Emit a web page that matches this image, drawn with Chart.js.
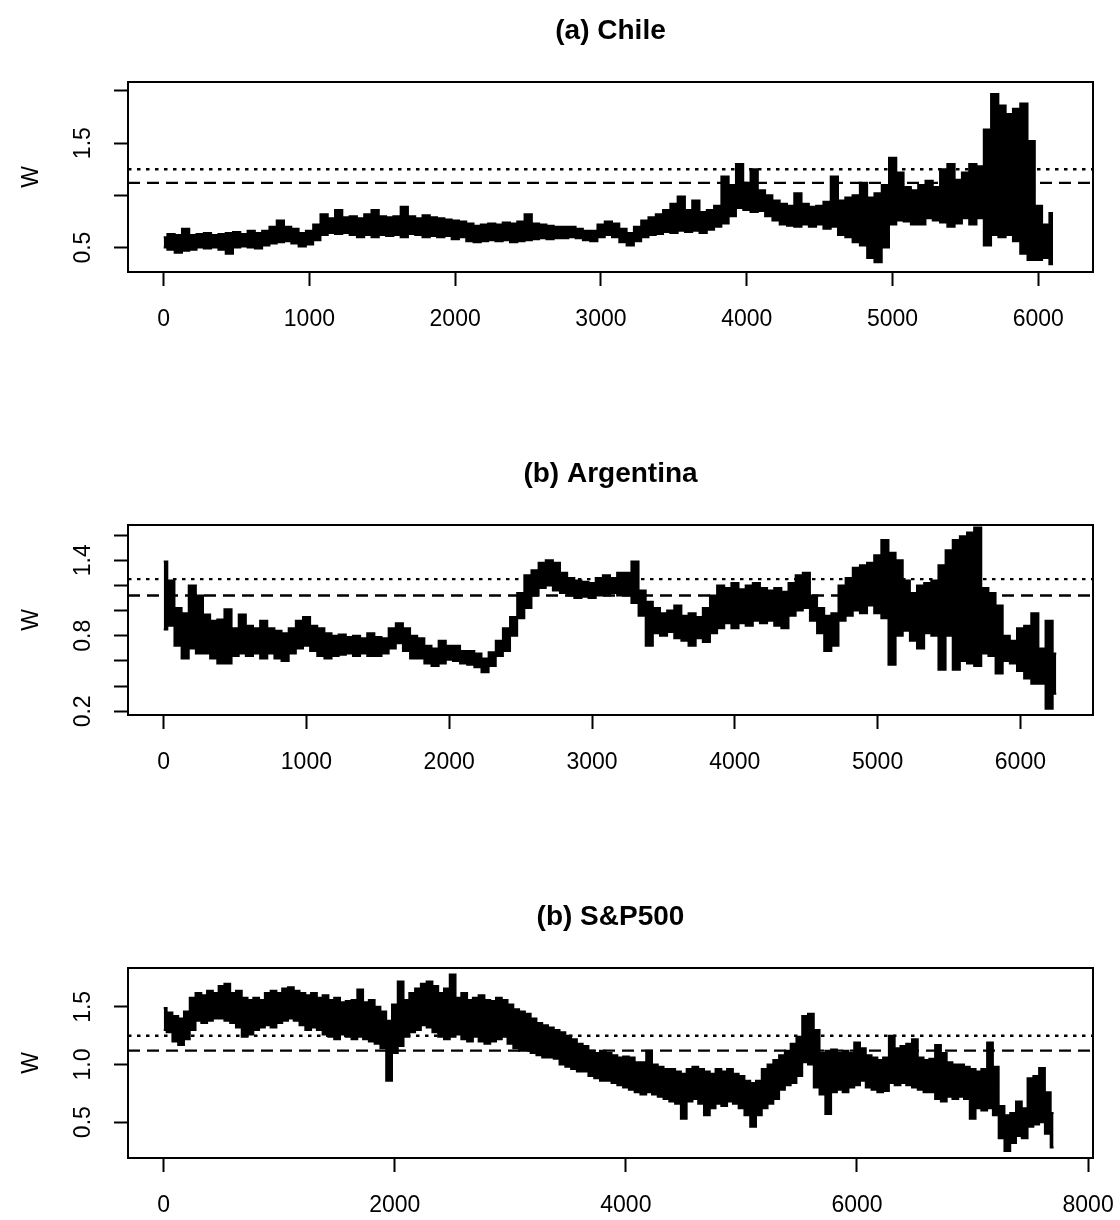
<!DOCTYPE html>
<html>
<head>
<meta charset="utf-8">
<script src="https://cdn.jsdelivr.net/npm/chart.js@4.4.0/dist/chart.umd.min.js"></script>
<style>
  body { margin: 0; background: #fff; width: 1120px; height: 1220px; overflow: hidden; }
  .panel { position: absolute; left: 0; width: 1120px; height: 334px; }
</style>
</head>
<body>
<div class="panel" style="top:0px"><canvas id="chile"></canvas></div>
<div class="panel" style="top:443px"><canvas id="argentina"></canvas></div>
<div class="panel" style="top:886px"><canvas id="sp500"></canvas></div>
<script>
// series are read as a lower and upper envelope every 50 observations
var step = 50;
var chileN = 6130, argentinaN = 6258, spN = 7733;
var thresholds = [1.25, 1.12]; // dotted, dashed

var chileLow = [
  0.50,0.48,0.45,0.47,0.48,0.50,0.49,0.50,0.48,0.44,
  0.50,0.51,0.50,0.49,0.52,0.54,0.55,0.56,0.54,0.51,
  0.53,0.57,0.62,0.64,0.63,0.64,0.62,0.60,0.62,0.60,
  0.62,0.61,0.62,0.60,0.63,0.62,0.60,0.61,0.60,0.61,
  0.58,0.60,0.56,0.55,0.56,0.57,0.56,0.57,0.55,0.56,
  0.57,0.58,0.59,0.58,0.59,0.59,0.60,0.59,0.57,0.56,
  0.60,0.62,0.60,0.55,0.52,0.56,0.60,0.62,0.63,0.65,
  0.64,0.66,0.65,0.66,0.64,0.67,0.70,0.73,0.80,0.88,
  0.86,0.84,0.85,0.80,0.76,0.72,0.71,0.70,0.72,0.70,
  0.72,0.68,0.70,0.62,0.60,0.55,0.52,0.40,0.36,0.50,
  0.72,0.76,0.75,0.72,0.72,0.78,0.76,0.74,0.70,0.73,
  0.78,0.72,0.78,0.52,0.62,0.60,0.62,0.56,0.44,0.38,
  0.38,0.40,0.34
];
var chileHigh = [
  0.60,0.63,0.62,0.68,0.62,0.63,0.64,0.62,0.63,0.64,
  0.65,0.63,0.66,0.64,0.66,0.70,0.76,0.70,0.68,0.64,
  0.66,0.72,0.82,0.78,0.86,0.79,0.80,0.78,0.82,0.86,
  0.80,0.79,0.80,0.89,0.80,0.78,0.81,0.79,0.78,0.77,
  0.76,0.75,0.73,0.71,0.72,0.73,0.72,0.74,0.73,0.75,
  0.82,0.73,0.72,0.71,0.70,0.70,0.70,0.68,0.66,0.66,
  0.72,0.75,0.73,0.68,0.64,0.70,0.76,0.79,0.82,0.86,
  0.92,0.99,0.86,0.95,0.84,0.86,0.90,1.18,1.10,1.30,
  1.12,1.25,1.05,1.00,0.95,0.92,0.90,1.02,0.92,0.89,
  0.90,0.94,1.18,0.95,0.98,1.00,1.12,0.98,1.02,1.10,
  1.36,1.22,1.08,1.05,1.10,1.14,1.08,1.25,1.30,1.15,
  1.22,1.30,1.28,1.63,1.97,1.86,1.78,1.83,1.88,1.52,
  0.90,0.72,0.83
];

var argentinaLow = [
  0.85,0.88,0.72,0.62,0.70,0.66,0.66,0.62,0.58,0.58,
  0.64,0.66,0.64,0.66,0.62,0.66,0.62,0.60,0.66,0.70,
  0.72,0.68,0.64,0.62,0.64,0.65,0.66,0.64,0.66,0.64,
  0.64,0.66,0.70,0.74,0.68,0.62,0.62,0.58,0.56,0.58,
  0.61,0.60,0.58,0.57,0.55,0.51,0.56,0.64,0.68,0.80,
  0.94,1.02,1.12,1.18,1.20,1.16,1.14,1.12,1.10,1.11,
  1.10,1.12,1.12,1.14,1.12,1.12,1.06,0.96,0.72,0.82,
  0.80,0.83,0.78,0.76,0.72,0.78,0.75,0.82,0.86,0.90,
  0.86,0.90,0.88,0.92,0.90,0.92,0.88,0.86,0.96,1.00,
  1.02,0.92,0.82,0.68,0.72,0.92,0.96,1.00,0.98,1.04,
  0.98,0.94,0.57,0.80,0.84,0.76,0.70,0.82,0.80,0.53,
  0.80,0.53,0.60,0.58,0.56,0.66,0.64,0.50,0.60,0.58,
  0.52,0.46,0.42,0.42,0.22,0.34
];
var argentinaHigh = [
  1.39,1.24,1.02,0.98,1.20,1.12,0.97,0.92,0.93,1.01,
  0.86,0.97,0.88,0.86,0.92,0.86,0.84,0.82,0.86,0.92,
  0.95,0.88,0.86,0.82,0.80,0.81,0.79,0.80,0.78,0.82,
  0.79,0.78,0.86,0.90,0.86,0.80,0.78,0.72,0.70,0.76,
  0.72,0.72,0.68,0.68,0.66,0.62,0.67,0.76,0.86,0.95,
  1.14,1.28,1.32,1.38,1.40,1.38,1.30,1.26,1.24,1.23,
  1.22,1.26,1.28,1.26,1.30,1.30,1.39,1.16,1.07,1.02,
  0.98,1.00,1.04,0.96,0.98,0.95,1.02,1.12,1.20,1.18,
  1.22,1.17,1.20,1.22,1.18,1.16,1.18,1.15,1.22,1.28,
  1.30,1.12,1.02,0.96,0.98,1.20,1.26,1.34,1.36,1.38,
  1.44,1.56,1.46,1.40,1.24,1.14,1.20,1.22,1.24,1.36,
  1.48,1.56,1.59,1.62,1.66,1.18,1.14,1.04,0.80,0.76,
  0.86,0.88,0.98,0.70,0.92,0.66
];

var spLow = [
  1.30,1.28,1.20,1.17,1.22,1.30,1.38,1.36,1.38,1.40,
  1.40,1.38,1.36,1.32,1.24,1.26,1.30,1.32,1.34,1.32,
  1.36,1.38,1.40,1.38,1.34,1.30,1.32,1.30,1.26,1.24,
  1.22,1.26,1.24,1.22,1.24,1.22,1.20,1.18,1.14,0.86,
  1.10,1.16,1.24,1.28,1.30,1.34,1.32,1.28,1.24,1.22,
  1.24,1.26,1.22,1.20,1.24,1.20,1.18,1.20,1.22,1.24,
  1.18,1.14,1.12,1.12,1.10,1.08,1.06,1.06,1.05,1.00,
  0.98,0.96,0.94,0.94,0.90,0.88,0.86,0.86,0.84,0.82,
  0.80,0.78,0.76,0.74,0.76,0.74,0.72,0.70,0.68,0.66,
  0.53,0.68,0.70,0.66,0.56,0.62,0.66,0.64,0.68,0.66,
  0.62,0.56,0.46,0.56,0.62,0.66,0.70,0.78,0.82,0.84,
  0.90,1.02,1.00,0.80,0.74,0.57,0.76,0.78,0.76,0.80,
  0.82,0.86,0.80,0.78,0.76,0.77,0.84,0.82,0.84,0.82,
  0.80,0.78,0.76,0.76,0.70,0.68,0.72,0.70,0.72,0.70,
  0.53,0.62,0.60,0.62,0.56,0.36,0.25,0.32,0.38,0.36,
  0.46,0.48,0.50,0.40,0.28
];
var spHigh = [
  1.49,1.45,1.42,1.40,1.46,1.58,1.62,1.60,1.64,1.62,
  1.68,1.70,1.62,1.64,1.58,1.56,1.58,1.56,1.62,1.64,
  1.62,1.66,1.67,1.64,1.62,1.60,1.62,1.58,1.60,1.56,
  1.58,1.54,1.55,1.56,1.65,1.54,1.56,1.50,1.46,1.38,
  1.52,1.72,1.56,1.62,1.66,1.70,1.72,1.68,1.62,1.66,
  1.78,1.58,1.62,1.56,1.58,1.60,1.56,1.55,1.58,1.56,
  1.52,1.48,1.46,1.44,1.40,1.36,1.34,1.32,1.30,1.28,
  1.25,1.22,1.18,1.16,1.12,1.10,1.12,1.10,1.08,1.06,
  1.07,1.06,1.02,1.02,1.12,1.00,0.98,0.96,0.96,0.94,
  0.92,0.96,0.98,0.96,0.94,0.92,0.96,0.94,0.96,0.92,
  0.90,0.86,0.84,0.86,0.96,1.00,1.04,1.08,1.12,1.18,
  1.24,1.42,1.44,1.30,1.10,1.12,1.13,1.10,1.12,1.10,
  1.19,1.14,1.08,1.06,1.04,1.06,1.25,1.14,1.16,1.18,
  1.22,1.06,1.04,1.05,1.17,1.10,1.02,1.00,1.00,0.98,
  0.96,0.94,0.96,1.19,0.98,0.64,0.56,0.58,0.68,0.62,
  0.88,0.90,0.97,0.76,0.58
];

var chileXTicks = [0, 1000, 2000, 3000, 4000, 5000, 6000];
var argentinaXTicks = [0, 1000, 2000, 3000, 4000, 5000, 6000];
var spXTicks = [0, 2000, 4000, 6000, 8000];
var chileYTicks = [0.5, 1.0, 1.5, 2.0], chileYLabels = [0.5, 1.5];
var argentinaYTicks = [0.2, 0.4, 0.6, 0.8, 1.0, 1.2, 1.4, 1.6], argentinaYLabels = [0.2, 0.8, 1.4];
var spYTicks = [0.5, 1.0, 1.5], spYLabels = [0.5, 1.0, 1.5];
var chileYRange = [0.266, 2.086];
var argentinaYRange = [0.171, 1.68];
var spYRange = [0.189, 1.837];

var FONT = "'Liberation Sans', Arial, sans-serif";

var boxPlugin = {
  id: 'box',
  afterDraw: function(chart) {
    var a = chart.chartArea, ctx = chart.ctx;
    ctx.save();
    ctx.strokeStyle = '#000';
    ctx.lineWidth = 2;
    ctx.strokeRect(a.left, a.top, a.right - a.left, a.bottom - a.top);
    ctx.restore();
  }
};

function toPoints(values) {
  var pts = [];
  for (var i = 0; i < values.length; i++) {
    pts.push({x: 1 + i * step, y: values[i]});
  }
  return pts;
}

function drawPanel(id, title, n, low, high, xTicks, yTicks, yLabels, yRange) {
  // R style axis extension of 4% on each side
  var xMin = 1 - 0.04 * (n - 1);
  var xMax = n + 0.04 * (n - 1);
  var ctx = document.getElementById(id).getContext('2d');
  return new Chart(ctx, {
    type: 'line',
    data: {
      datasets: [
        {
          data: [{x: xMin, y: thresholds[0]}, {x: xMax, y: thresholds[0]}],
          borderColor: '#000', borderWidth: 2.4, borderDash: [3.5, 5.5],
          pointRadius: 0, fill: false
        },
        {
          data: [{x: xMin, y: thresholds[1]}, {x: xMax, y: thresholds[1]}],
          borderColor: '#000', borderWidth: 2.4, borderDash: [12, 7],
          pointRadius: 0, fill: false
        },
        {
          data: toPoints(high),
          borderColor: '#000', backgroundColor: '#000', borderWidth: 2,
          pointRadius: 0, stepped: 'middle', fill: '+1'
        },
        {
          data: toPoints(low),
          borderColor: '#000', borderWidth: 2,
          pointRadius: 0, stepped: 'middle', fill: false
        }
      ]
    },
    options: {
      responsive: true,
      maintainAspectRatio: false,
      animation: false,
      devicePixelRatio: 1,
      layout: {padding: {left: 0, right: 27, top: 0, bottom: 0}},
      plugins: {
        legend: {display: false},
        tooltip: {enabled: false},
        title: {
          display: true,
          text: title,
          fullSize: false,
          color: '#000',
          font: {family: FONT, size: 28, weight: 'bold'},
          padding: {top: 14, bottom: 34.4}
        }
      },
      scales: {
        x: {
          type: 'linear',
          min: xMin,
          max: xMax,
          afterBuildTicks: function(scale) {
            scale.ticks = xTicks.map(function(v) { return {value: v}; });
          },
          afterFit: function(scale) {
            scale.height = 62;
            scale.paddingLeft = 0;
            scale.paddingRight = 0;
          },
          grid: {drawOnChartArea: false, drawTicks: true, tickLength: 14, tickWidth: 2, tickColor: '#000'},
          border: {display: false},
          ticks: {
            color: '#000',
            padding: 20,
            maxRotation: 0,
            autoSkip: false,
            font: {family: FONT, size: 23},
            callback: function(value) { return String(value); }
          }
        },
        y: {
          type: 'linear',
          min: yRange[0],
          max: yRange[1],
          afterBuildTicks: function(scale) {
            scale.ticks = yTicks.map(function(v) { return {value: v}; });
          },
          afterFit: function(scale) {
            scale.width = 128;
            scale.paddingTop = 0;
            scale.paddingBottom = 0;
          },
          grid: {drawOnChartArea: false, drawTicks: true, tickLength: 14, tickWidth: 2, tickColor: '#000'},
          border: {display: false},
          title: {
            display: true,
            text: 'W',
            color: '#000',
            font: {family: FONT, size: 23},
            padding: {top: 18, bottom: 0}
          },
          ticks: {
            color: '#000',
            padding: 14,
            minRotation: 90,
            maxRotation: 90,
            crossAlign: 'center',
            autoSkip: false,
            font: {family: FONT, size: 23},
            callback: function(value) {
              return yLabels.indexOf(value) >= 0 ? value.toFixed(1) : '';
            }
          }
        }
      }
    },
    plugins: [boxPlugin]
  });
}

drawPanel('chile', '(a) Chile', chileN, chileLow, chileHigh, chileXTicks, chileYTicks, chileYLabels, chileYRange);
drawPanel('argentina', '(b) Argentina', argentinaN, argentinaLow, argentinaHigh, argentinaXTicks, argentinaYTicks, argentinaYLabels, argentinaYRange);
drawPanel('sp500', '(b) S&P500', spN, spLow, spHigh, spXTicks, spYTicks, spYLabels, spYRange);
</script>
</body>
</html>
